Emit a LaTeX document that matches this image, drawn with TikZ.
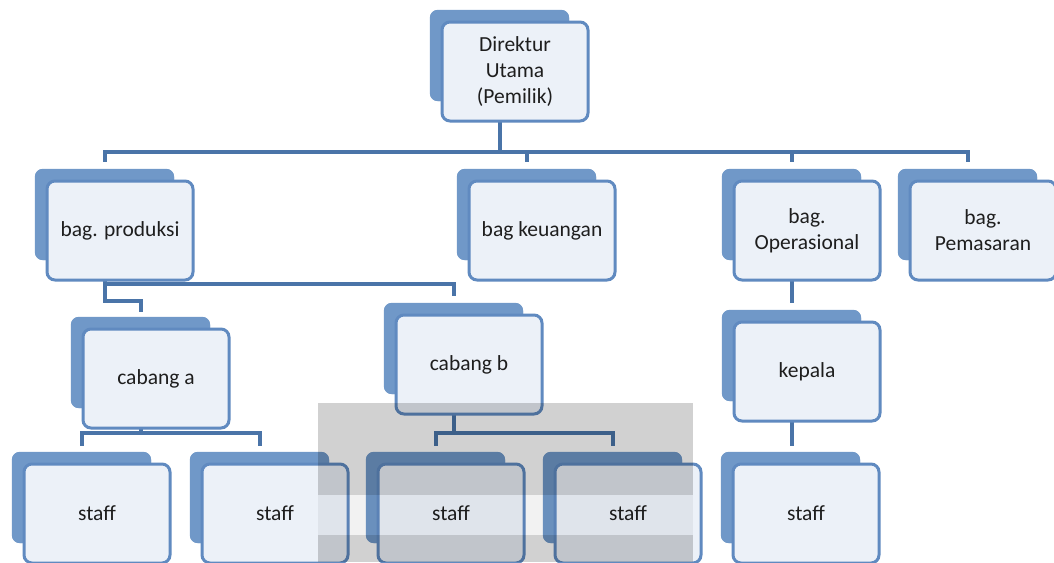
\documentclass[tikz,border=0pt]{standalone}
\usepackage{fontspec}
\setmainfont{Carlito}
\definecolor{backblue}{RGB}{112,152,200}
\definecolor{frameblue}{RGB}{96,138,192}
\definecolor{frontfill}{RGB}{236,241,248}
\definecolor{connblue}{RGB}{74,116,168}
\definecolor{textgray}{RGB}{30,30,30}
\begin{document}
\begin{tikzpicture}[x=1pt,y=-1pt,
  backbox/.style={fill=backblue, rounded corners=8pt, minimum width=139pt, minimum height=91pt, inner sep=0pt},
  frontbox/.style={draw=frameblue, line width=3pt, fill=frontfill, rounded corners=8pt, minimum width=146pt, minimum height=99pt, inner sep=0pt, align=center, text=textgray, font=\fontsize{21.5}{26}\selectfont},
  conn/.style={draw=connblue, line width=4pt}]
\useasboundingbox (0,0) rectangle (1054,562);
\fill[white] (0,0) rectangle (1054,562);

% helper coordinates for bus lines
\coordinate (y152) at (0,152);
\coordinate (y284) at (0,284);
\coordinate (y301) at (0,301);
\coordinate (y433) at (0,433);

% back boxes
\node[backbox] (dirb) at (499.5,55.5) {};
\node[backbox] (prodb) at (104.5,214.5) {};
\node[backbox] (keub) at (526.5,214.5) {};
\node[backbox] (opsb) at (791.5,214.5) {};
\node[backbox] (pemb) at (967.5,214.5) {};
\node[backbox] (cabab) at (140.5,362.5) {};
\node[backbox] (cabbb) at (453.5,348.5) {};
\node[backbox] (kepb) at (791.5,355.5) {};
\node[backbox] (s1b) at (81.5,497.5) {};
\node[backbox] (s2b) at (259.5,497.5) {};
\node[backbox] (s3b) at (435.5,497.5) {};
\node[backbox] (s4b) at (612.5,497.5) {};
\node[backbox] (s5b) at (790.5,497.5) {};

% connectors
\draw[conn] (dirb.south) -- (dirb.south |- y152);
\draw[conn, shorten <=7pt, shorten >=7pt] (prodb.north) -- (prodb.north |- y152) -- (pemb.north |- y152) -- (pemb.north);
\draw[conn, shorten >=7pt] (keub.north |- y152) -- (keub.north);
\draw[conn, shorten >=7pt] (opsb.north |- y152) -- (opsb.north);
\draw[conn, shorten >=5pt] (prodb.south) -- (prodb.south |- y301) -- (cabab.north |- y301) -- (cabab.north);
\draw[conn, shorten >=7pt] (prodb.south |- y284) -- (cabbb.north |- y284) -- (cabbb.north);
\draw[conn, shorten >=7pt] (opsb.south) -- (kepb.north);
\draw[conn, shorten >=6pt] (kepb.south) -- (kepb.south |- s5b.north);
\draw[conn] (cabab.south) -- (cabab.south |- y433);
\draw[conn, shorten <=6pt, shorten >=6pt] (s1b.north) -- (s1b.north |- y433) -- (s2b.north |- y433) -- (s2b.north);
\draw[conn] (cabbb.south) -- (cabbb.south |- y433);
\draw[conn, shorten <=6pt, shorten >=6pt] (s3b.north) -- (s3b.north |- y433) -- (s4b.north |- y433) -- (s4b.north);

% redraw back boxes over connectors
\foreach \n in {dirb,prodb,keub,opsb,pemb,cabab,cabbb,kepb,s1b,s2b,s3b,s4b,s5b}{
  \fill[backblue, rounded corners=8pt] (\n.north west) rectangle (\n.south east);
}

% front boxes
\node[frontbox] (dir) at (515,71.5) {Direktur\\Utama\\(Pemilik)};
\node[frontbox] (prod) at (120,230.5) {bag. produksi};
\node[frontbox] (keu) at (542,230.5) {bag keuangan};
\node[frontbox] (ops) at (807,230.5) {bag.\\Operasional};
\node[frontbox] (pem) at (983,230.5) {bag.\\Pemasaran};
\node[frontbox] (caba) at (156,378.5) {cabang a};
\node[frontbox] (cabb) at (469,364.5) {cabang b};
\node[frontbox] (kep) at (807,371.5) {kepala};
\node[frontbox] (s1) at (97,513.5) {staff};
\node[frontbox] (s2) at (275,513.5) {staff};
\node[frontbox] (s3) at (451,513.5) {staff};
\node[frontbox] (s4) at (628,513.5) {staff};
\node[frontbox] (s5) at (806,513.5) {staff};

% grey background panel (overlay)
\fill[black, fill opacity=0.18] (318,403) rectangle (693,495);
\fill[black, fill opacity=0.05] (318,495) rectangle (693,535);
\fill[black, fill opacity=0.18] (318,535) rectangle (693,562);
\end{tikzpicture}
\end{document}
